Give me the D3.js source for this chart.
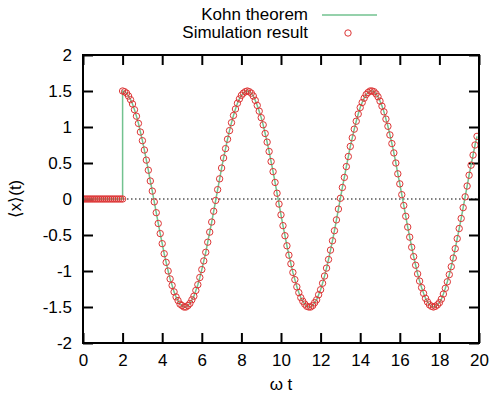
<!DOCTYPE html>
<html lang="en">
<head>
    <meta charset="UTF-8">
    <title>Kohn theorem vs simulation</title>
    <script src="https://d3js.org/d3.v7.min.js"></script>
    <style>
        body{ margin:0; background:#fff; }
        svg{ display:block; }
        text{ font-family: "Liberation Sans", Arial, sans-serif; fill:#000; }
    </style>
</head>
<body>
    <script>
        // time grid step (omega t)
        const dt = 0.1
        // before the kick: omega t = 0 .. 2.0
        const restStart = 0
        const restValues = [0,0,0,0,0,0,0,0,0,0,0,0,0,0,0,0,0,0,0,0,0]
        // after the kick: omega t = 2.0 .. 19.9
        const oscStart = 2
        const oscValues = [
            1.50,1.49,1.47,1.43,1.38,1.32,1.24,1.15,1.05,0.93,0.81,0.68,0.54,0.40,0.25,0.11,
            -0.04,-0.19,-0.34,-0.48,-0.62,-0.76,-0.88,-1.00,-1.11,-1.20,-1.29,-1.36,-1.41,-1.46,-1.48,-1.50,
            -1.50,-1.48,-1.45,-1.40,-1.35,-1.27,-1.19,-1.09,-0.98,-0.86,-0.74,-0.60,-0.46,-0.32,-0.17,-0.02,
            0.13,0.28,0.43,0.57,0.70,0.83,0.95,1.06,1.16,1.25,1.33,1.39,1.44,1.47,1.49,
            1.50,1.49,1.47,1.43,1.37,1.30,1.22,1.13,1.03,0.91,0.79,0.66,0.52,0.38,0.23,0.08,
            -0.07,-0.22,-0.37,-0.51,-0.65,-0.78,-0.90,-1.02,-1.12,-1.22,-1.30,-1.37,-1.42,-1.46,-1.49,-1.50,
            -1.50,-1.48,-1.44,-1.40,-1.33,-1.26,-1.17,-1.07,-0.96,-0.84,-0.71,-0.58,-0.44,-0.29,-0.14,0.01,
            0.16,0.30,0.45,0.59,0.73,0.85,0.97,1.08,1.18,1.27,1.34,1.40,1.45,1.48,1.50,
            1.50,1.49,1.46,1.42,1.36,1.29,1.21,1.11,1.01,0.89,0.77,0.64,0.50,0.35,0.21,0.06,
            -0.09,-0.24,-0.39,-0.53,-0.67,-0.80,-0.92,-1.04,-1.14,-1.23,-1.31,-1.38,-1.43,-1.47,-1.49,-1.50,
            -1.49,-1.47,-1.44,-1.39,-1.32,-1.24,-1.15,-1.05,-0.94,-0.82,-0.69,-0.55,-0.41,-0.27,-0.12,0.03,
            0.18,0.33,0.47,0.61,0.75,0.87
        ]
        const xTicks = [0,2,4,6,8,10,12,14,16,18,20]
        const yTicks = [-2,-1.5,-1,-0.5,0,0.5,1,1.5,2]
        const seriesNames = ["Kohn theorem", "Simulation result"]

        const W = 492, H = 395
        const margin = {top:55, left:83, right:13, bottom:52}
        const lineColor = "#72c28f"
        const pointColor = "#dd3535"
        const fs = 17

        const rest = restValues.map((v,i)=> ({t: restStart + i*dt, v}))
        const osc = oscValues.map((v,i)=> ({t: oscStart + i*dt, v}))
        const all = rest.concat(osc)

        const svg = d3.select("body").append("svg").attr("width",W).attr("height",H)

        const xScale = d3.scaleLinear().domain([0,20]).range([margin.left, W-margin.right])
        const yScale = d3.scaleLinear().domain([-2,2]).range([H-margin.bottom, margin.top])

        const x0 = margin.left, x1 = W-margin.right, y0 = H-margin.bottom, y1 = margin.top

        // axes with mirrored inward ticks
        const tickLen = 10
        svg.append("g").attr("transform",`translate(0,${y0})`)
            .call(d3.axisBottom(xScale).tickValues(xTicks).tickSize(-tickLen).tickPadding(11).tickFormat(d3.format("d")))
        svg.append("g").attr("transform",`translate(0,${y1})`)
            .call(d3.axisTop(xScale).tickValues(xTicks).tickSize(-tickLen).tickFormat(""))
        svg.append("g").attr("transform",`translate(${x0},0)`)
            .call(d3.axisLeft(yScale).tickValues(yTicks).tickSize(-tickLen).tickPadding(11).tickFormat(d=> d))
        svg.append("g").attr("transform",`translate(${x1},0)`)
            .call(d3.axisRight(yScale).tickValues(yTicks).tickSize(-tickLen).tickFormat(""))
        svg.selectAll(".domain").remove()
        svg.selectAll(".tick line").attr("stroke","#000").attr("stroke-width",2)
        svg.selectAll(".tick text").attr("font-size",fs).attr("font-family","Liberation Sans, Arial, sans-serif")

        // zero axis
        svg.append("line")
            .attr("x1",x0).attr("x2",x1)
            .attr("y1",yScale(0)).attr("y2",yScale(0))
            .attr("stroke","#000").attr("stroke-width",1).attr("stroke-dasharray","1.5,2.5")

        const clip = svg.append("clipPath").attr("id","clip")
        clip.append("rect").attr("x",x0).attr("y",y1).attr("width",x1-x0).attr("height",y0-y1)
        const plot = svg.append("g").attr("clip-path","url(#clip)")

        const line = d3.line().x(d=> xScale(d.t)).y(d=> yScale(d.v))
        plot.append("path")
            .attr("d", line(all))
            .attr("fill","none")
            .attr("stroke",lineColor)
            .attr("stroke-width",1.5)

        plot.selectAll("circle.pt").data(all).join("circle")
            .attr("class","pt")
            .attr("cx",d=> xScale(d.t))
            .attr("cy",d=> yScale(d.v))
            .attr("r",3.2)
            .attr("fill","none")
            .attr("stroke",pointColor)
            .attr("stroke-width",1)

        // frame
        svg.append("rect")
            .attr("x",x0).attr("y",y1).attr("width",x1-x0).attr("height",y0-y1)
            .attr("fill","none").attr("stroke","#000").attr("stroke-width",2)

        // labels
        svg.append("text")
            .attr("x",(x0+x1)/2).attr("y",390)
            .attr("text-anchor","middle").attr("font-size",fs)
            .text("ω t")
        svg.append("text")
            .attr("transform",`translate(21,${yScale(0)}) rotate(-90)`)
            .attr("text-anchor","middle").attr("font-size",fs)
            .text("⟨x⟩(t)")

        // legend
        const leg = svg.append("g")
        leg.append("text").attr("x",308).attr("y",20).attr("text-anchor","end").attr("font-size",fs).text(seriesNames[0])
        leg.append("line").attr("x1",322).attr("x2",377).attr("y1",15).attr("y2",15)
            .attr("stroke",lineColor).attr("stroke-width",1.5)
        leg.append("text").attr("x",308).attr("y",38).attr("text-anchor","end").attr("font-size",fs).text(seriesNames[1])
        leg.append("circle").attr("cx",348).attr("cy",33).attr("r",3.2)
            .attr("fill","none").attr("stroke",pointColor).attr("stroke-width",1)
    </script>
</body>
</html>
